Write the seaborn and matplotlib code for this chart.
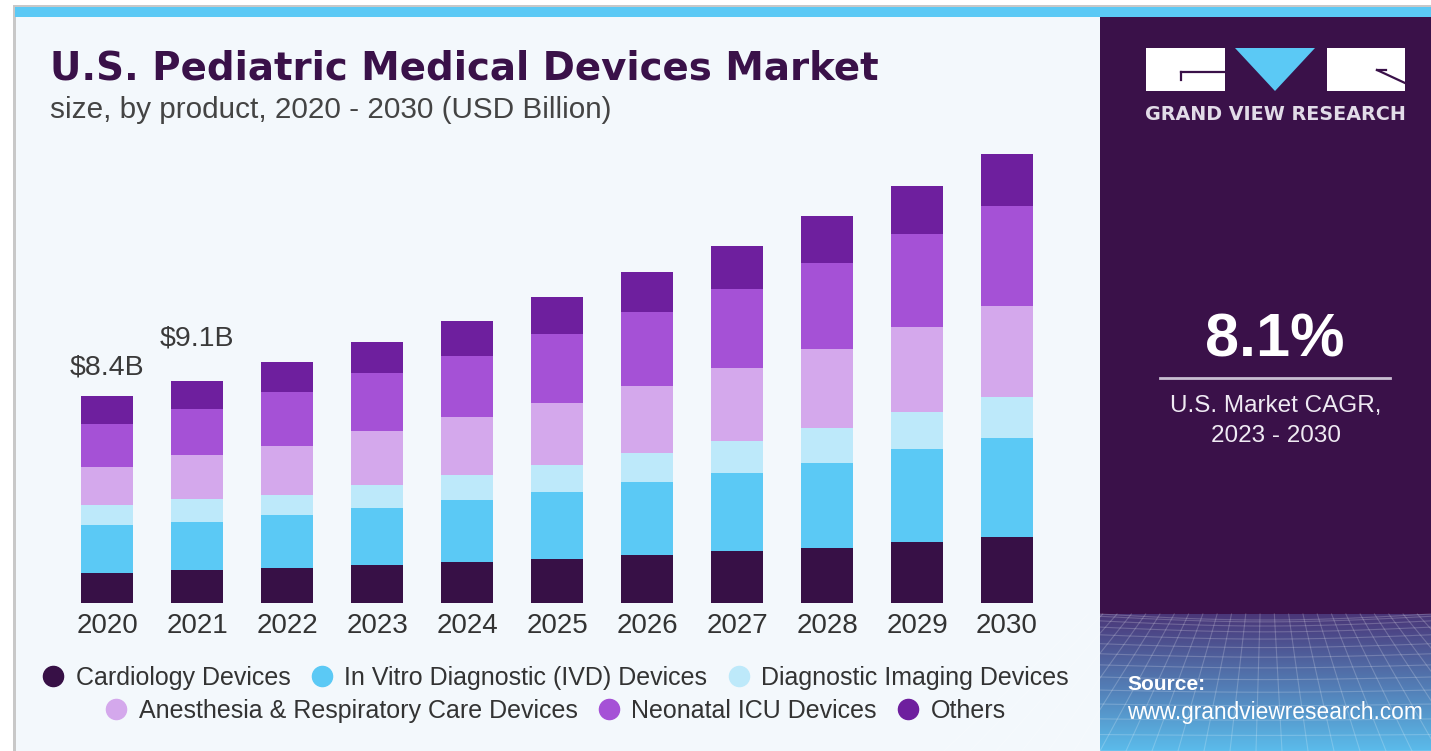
import numpy as np
import pandas as pd
import matplotlib
matplotlib.use("Agg")
import matplotlib.pyplot as plt
from matplotlib.patches import Rectangle, Polygon
from matplotlib.lines import Line2D
import seaborn as sns

# ---------------- data ----------------
years = ['2020', '2021', '2022', '2023', '2024', '2025', '2026', '2027', '2028', '2029', '2030']
cardiology = [1.22, 1.34, 1.43, 1.53, 1.65, 1.77, 1.94, 2.11, 2.25, 2.50, 2.67]
ivd        = [1.95, 1.94, 2.14, 2.33, 2.55, 2.76, 2.97, 3.19, 3.46, 3.76, 4.04]
imaging    = [0.81, 0.96, 0.84, 0.95, 1.02, 1.10, 1.19, 1.28, 1.42, 1.49, 1.65]
anesthesia = [1.54, 1.76, 1.98, 2.17, 2.33, 2.50, 2.74, 2.97, 3.18, 3.46, 3.73]
neonatal   = [1.75, 1.88, 2.20, 2.36, 2.51, 2.80, 2.97, 3.23, 3.51, 3.78, 4.04]
others     = [1.14, 1.14, 1.20, 1.29, 1.42, 1.52, 1.65, 1.72, 1.91, 1.98, 2.14]

segments = ['Cardiology Devices', 'In Vitro Diagnostic (IVD) Devices', 'Diagnostic Imaging Devices',
            'Anesthesia & Respiratory Care Devices', 'Neonatal ICU Devices', 'Others']
colors = ['#371046', '#5BC9F5', '#BDE9FA', '#D4A8EC', '#A551D6', '#6E1F9E']
value_labels = ['$8.4B', '$9.1B']
cagr = '8.1%'

df = pd.DataFrame({'year': years, segments[0]: cardiology, segments[1]: ivd, segments[2]: imaging,
                   segments[3]: anesthesia, segments[4]: neonatal, segments[5]: others})
cum = df[segments].cumsum(axis=1)

# ---------------- figure ----------------
W, H = 1431, 751
fig = plt.figure(figsize=(W / 100, H / 100), dpi=100, facecolor='white')
renderer = fig.canvas.get_renderer()


def fit_width(t, target_px):
    w = t.get_window_extent(renderer).width
    t.set_fontsize(t.get_fontsize() * target_px / w)


# decoration layer in pixel coordinates
bg = fig.add_axes([0, 0, 1, 1], zorder=0)
bg.set_xlim(0, W)
bg.set_ylim(H, 0)
bg.axis('off')

DARK = '#3A1149'
bg.add_patch(Rectangle((13, 5), W - 13, 2.5, color='#C8C8C8', lw=0))
bg.add_patch(Rectangle((13, 5), 2.5, H - 5, color='#C8C8C8', lw=0))
bg.add_patch(Rectangle((15, 7), W - 15, 9.5, color='#5BC9F5', lw=0))
bg.add_patch(Rectangle((15.5, 16.5), 1100 - 15.5, H - 16.5, color='#F3F8FC', lw=0))
bg.add_patch(Rectangle((1100, 16.5), W - 1100, H - 16.5, color=DARK, lw=0))

# gradient at the bottom of the right panel
grad = np.linspace(0, 1, 200)[:, None]
c0 = np.array(matplotlib.colors.to_rgb('#4A3678'))
c1 = np.array(matplotlib.colors.to_rgb('#5BBCEB'))
img = c0[None, None, :] * (1 - grad[..., None]) + c1[None, None, :] * grad[..., None]
img = np.repeat(img, 2, axis=1)
bg.imshow(img, extent=[1100, W, H, 614], aspect='auto', zorder=1, interpolation='bilinear')
# perspective mesh
for k in range(14):
    y0 = 614 + 137 * (k / 13) ** 1.6
    xs = np.linspace(1100, W, 50)
    ys = y0 + 6 * np.sin((xs - 1100) / 331 * np.pi) * (1 - k / 14)
    bg.plot(xs, ys, color='white', alpha=0.2, lw=0.8, zorder=2)
for k in range(-6, 20):
    xb = 1100 + k * 26
    xt = 1265 + (xb - 1265) * 0.55
    bg.plot([xt, xb], [614, H], color='white', alpha=0.2, lw=0.8, zorder=2)
bg.set_xlim(0, W)
bg.set_ylim(H, 0)

# logo
bg.add_patch(Rectangle((1146, 48), 79, 43, color='white', lw=0, zorder=3))
bg.plot([1181, 1225], [72, 72], color=DARK, lw=1.6, zorder=4)
bg.plot([1181, 1181], [72, 80], color=DARK, lw=1.6, zorder=4)
bg.add_patch(Polygon([[1235, 48], [1315, 48], [1275, 91]], closed=True, color='#5BC9F5', lw=0, zorder=3))
bg.add_patch(Rectangle((1327, 48), 78, 43, color='white', lw=0, zorder=3))
bg.plot([1377, 1405], [70, 83], color=DARK, lw=1.6, zorder=4)
bg.plot([1377, 1386], [70, 70], color=DARK, lw=1.6, zorder=4)
logo_t = bg.text(1275.5, 115, 'GRAND VIEW RESEARCH', color='#E2DCE8', fontsize=13,
                 fontweight='bold', family='DejaVu Sans', ha='center', va='center', zorder=4)
fit_width(logo_t, 259)

# CAGR block
bg.text(1275, 341, cagr, color='white', fontsize=44, fontweight='bold', family='Liberation Sans',
        ha='center', va='center', zorder=4)
bg.plot([1160, 1390], [378, 378], color='#C9BFD2', lw=2, zorder=4)
bg.text(1276, 406, 'U.S. Market CAGR,', color='#EFEAF3', fontsize=17.5, family='Liberation Sans',
        ha='center', va='center', zorder=4)
bg.text(1276, 436, '2023 - 2030', color='#EFEAF3', fontsize=17.5, family='Liberation Sans',
        ha='center', va='center', zorder=4)

# source
bg.text(1127, 684, 'Source:', color='white', fontsize=15, fontweight='bold', family='Liberation Sans',
        ha='left', va='center', zorder=4)
src = bg.text(1127, 712, 'www.grandviewresearch.com', color='white', fontsize=16, family='Liberation Sans',
              ha='left', va='center', zorder=4)
fit_width(src, 296)

# title
title = bg.text(50, 68, 'U.S. Pediatric Medical Devices Market', color=DARK, fontsize=24,
                fontweight='bold', family='DejaVu Sans', ha='left', va='center', zorder=4)
fit_width(title, 830)
sub = bg.text(50, 110, 'size, by product, 2020 - 2030 (USD Billion)', color='#444444', fontsize=20,
              family=['Liberation Sans Narrow', 'Liberation Sans'], ha='left', va='center', zorder=4)
fit_width(sub, 562)

# ---------------- bars ----------------
px_per_b = 24.6
ax_l, ax_r, ax_b, ax_t = 62, 1052, 603, 140
ax = fig.add_axes([ax_l / W, (H - ax_b) / H, (ax_r - ax_l) / W, (ax_b - ax_t) / H], zorder=2)
ax.patch.set_alpha(0)

for seg, col in reversed(list(zip(segments, colors))):
    sns.barplot(x=df['year'], y=cum[seg], color=col, saturation=1, width=0.58,
                edgecolor='none', linewidth=0, ax=ax)

ax.set_xlim(-0.5, len(years) - 0.5)
ax.set_ylim(0, (ax_b - ax_t) / px_per_b)
for s in ax.spines.values():
    s.set_visible(False)
ax.set_yticks([])
ax.set_xlabel('')
ax.set_ylabel('')
ax.tick_params(axis='x', length=0, pad=7, labelsize=20, labelcolor='#333333')
for t in ax.get_xticklabels():
    t.set_family('Liberation Sans')

totals = cum[segments[-1]].values
offsets = [29, 43]
for i, lab in enumerate(value_labels):
    ax.annotate(lab, xy=(i, totals[i]), xytext=(0, offsets[i]), textcoords='offset pixels',
                ha='center', va='center', fontsize=20.5, color='#3A3A3A', family='Liberation Sans',
                parse_math=False)

# ---------------- legends ----------------
def handle(c):
    return Line2D([], [], marker='o', linestyle='none', markersize=14.5, markerfacecolor=c,
                  markeredgecolor=c)

leg_kw = dict(frameon=False, handlelength=0.8, handletextpad=0.5, columnspacing=0.85,
              prop={'family': 'Liberation Sans', 'size': 18}, labelcolor='#333333',
              loc='center', borderaxespad=0, borderpad=0)
leg1 = fig.legend([handle(c) for c in colors[:3]], segments[:3], ncol=3,
                  bbox_to_anchor=(556 / W, (H - 678) / H), **leg_kw)
leg2 = fig.legend([handle(c) for c in colors[3:]], segments[3:], ncol=3,
                  bbox_to_anchor=(556 / W, (H - 711) / H), **leg_kw)

fig.savefig('out.png', dpi=100, facecolor='white')
